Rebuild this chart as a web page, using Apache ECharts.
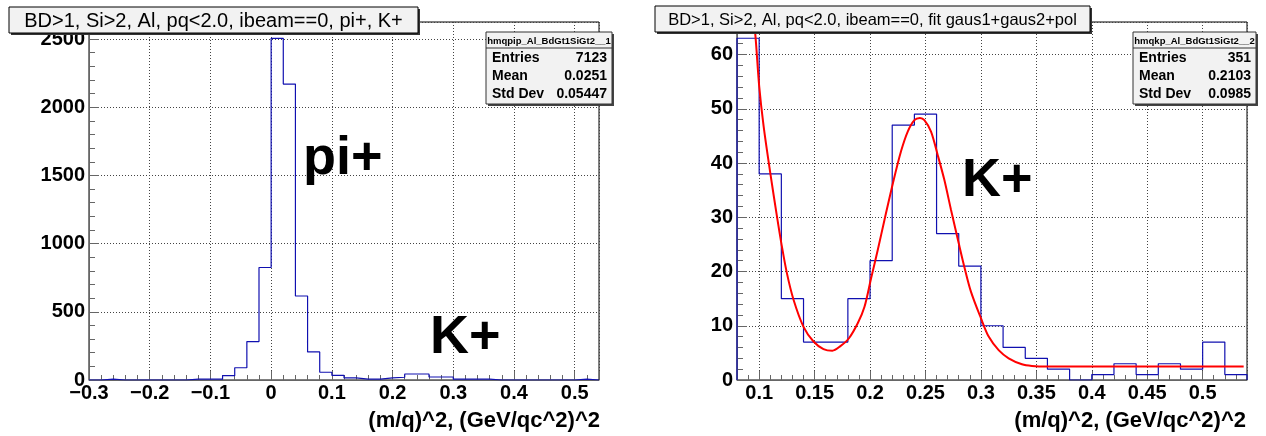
<!DOCTYPE html>
<html lang="en" style="height: 100%">
<head>
    <meta charset="UTF-8">
    <title>(m/q)^2 histograms</title>
    <script src="https://cdn.jsdelivr.net/npm/echarts@6/dist/echarts.min.js"></script>
</head>
<body style="height: 100%; margin: 0; background: #fff">
<div id="container" style="width: 1266px; height: 436px"></div>

<script type="text/javascript">
    // left histogram, bins of 0.02 starting at -0.30
    var leftStart = -0.30;
    var leftBin = 0.02;
    var leftCounts = [0, 6, 0, 0, 0, 0, 0, 0, 6, 6, 6, 32, 90, 282, 825,
        2505, 2170, 616, 206, 57, 34, 15, 6, 6, 15, 20, 44, 44, 22, 22,
        6, 6, 6, 0, 0, 0, 0, 0, 0, 0, 6, 0];

    // right histogram, bins of 0.02 starting at 0.08
    var rightStart = 0.08;
    var rightBin = 0.02;
    var rightCounts = [63, 38, 15, 7, 7, 15, 22, 47, 49, 27, 21, 10, 6, 4, 2,
        0, 1, 3, 1, 3, 2, 7, 1];

    // gaus1+gaus2+pol fit
    var fitX = [0.092, 0.0964, 0.100, 0.104, 0.110, 0.116, 0.120, 0.125, 0.131, 0.140,
        0.149, 0.158, 0.166, 0.173, 0.181, 0.189, 0.195, 0.201, 0.207, 0.213,
        0.221, 0.228, 0.234, 0.240, 0.245, 0.249, 0.255, 0.261, 0.267, 0.273,
        0.280, 0.285, 0.291, 0.300, 0.307, 0.316, 0.325, 0.337, 0.346, 0.360,
        0.400, 0.450, 0.500, 0.537];
    var fitY = [72, 64, 54.2, 46.8, 38.2, 30.2, 25.2, 19.7, 14.8, 9.8,
        7.1, 5.7, 5.4, 6.2, 7.7, 10.5, 13.5, 18.8, 24, 29.5,
        36.6, 42.2, 45.8, 47.9, 48.3, 47.9, 45.8, 41.5, 36.9, 31.4,
        25.2, 20.9, 16.3, 11.4, 8, 5.5, 4, 2.9, 2.6, 2.5,
        2.5, 2.5, 2.5, 2.5];

    var titles = ['BD>1, Si>2, Al, pq<2.0, ibeam==0, pi+, K+',
        'BD>1, Si>2, Al, pq<2.0, ibeam==0, fit gaus1+gaus2+pol'];
    var statNames = ['hmqpip_Al_BdGt1SiGt2__1', 'hmqkp_Al_BdGt1SiGt2__2'];
    var statLabels = ['Entries', 'Mean', 'Std Dev'];
    var leftStats = ['7123', '0.0251', '0.05447'];
    var rightStats = ['351', '0.2103', '0.0985'];
    var xTitle = '(m/q)^2, (GeV/qc^2)^2';

    var FONT = "'Liberation Sans', Arial, sans-serif";

    function steps(start, width, counts) {
        var pts = [[start, 0]];
        for (var i = 0; i < counts.length; i++) {
            var lo = +(start + i * width).toFixed(4);
            var hi = +(start + (i + 1) * width).toFixed(4);
            pts.push([lo, counts[i]], [hi, counts[i]]);
        }
        pts.push([+(start + counts.length * width).toFixed(4), 0]);
        return pts;
    }

    function fmt(v) {
        return String(+v.toFixed(3)).replace('-', '\u2212');
    }

    function xAxis(idx, extra) {
        var a = {
            gridIndex: idx, type: 'value',
            axisLine: {show: true, onZero: false, lineStyle: {color: '#666'}},
            axisTick: {show: true, inside: true, length: 9, lineStyle: {color: '#666'}},
            minorTick: {show: true, splitNumber: 5, length: 5, lineStyle: {color: '#666'}},
            splitLine: {show: true, lineStyle: {color: '#444', type: [1, 2]}},
            axisLabel: {
                fontFamily: FONT, fontWeight: 'bold', fontSize: 20, color: '#000', margin: 3,
                showMinLabel: idx === 0, showMaxLabel: false, formatter: fmt
            }
        };
        for (var k in extra) a[k] = extra[k];
        return a;
    }

    function yAxis(idx, max, interval) {
        return {
            gridIndex: idx, type: 'value', min: 0, max: max, interval: interval,
            axisLine: {show: true, onZero: false, lineStyle: {color: '#666'}},
            axisTick: {show: true, inside: true, length: 10, lineStyle: {color: '#666'}},
            minorTick: {show: true, splitNumber: 5, length: 6, lineStyle: {color: '#666'}},
            splitLine: {show: true, lineStyle: {color: '#444', type: [1, 2]}},
            axisLabel: {
                fontFamily: FONT, fontWeight: 'bold', fontSize: 20, color: '#000', margin: 4,
                showMaxLabel: false,
                formatter: function (v) { return String(v); }
            }
        };
    }

    function titleBox(x, y, w, h, text, size) {
        return [
            {type: 'rect', z: 100, shape: {x: x + 2, y: y + 2, width: w, height: h}, style: {fill: '#333'}},
            {type: 'rect', z: 101, shape: {x: x, y: y, width: w, height: h},
                style: {fill: '#f2f2f2', stroke: '#000', lineWidth: 1}},
            {type: 'text', z: 102, x: x + w / 2, y: y + h / 2 + 1,
                style: {text: text, font: size + 'px ' + FONT, fill: '#000', align: 'center', verticalAlign: 'middle'}}
        ];
    }

    function statBox(x, y, w, name, values) {
        var head = 16, row = 18;
        var h = head + row * 3 + 2;
        var els = [
            {type: 'rect', z: 100, shape: {x: x + 2, y: y + 2, width: w, height: h}, style: {fill: '#444'}},
            {type: 'rect', z: 101, shape: {x: x, y: y, width: w, height: h},
                style: {fill: '#f2f2f2', stroke: '#333', lineWidth: 1}},
            {type: 'line', z: 102, shape: {x1: x, y1: y + head, x2: x + w, y2: y + head},
                style: {stroke: '#333', lineWidth: 1}},
            {type: 'text', z: 102, x: x + w / 2, y: y + head / 2 + 1,
                style: {text: name, font: 'bold 9.5px ' + FONT, fill: '#000', align: 'center', verticalAlign: 'middle'}}
        ];
        for (var i = 0; i < 3; i++) {
            var cy = y + head + row * i + row / 2 + 1;
            els.push({type: 'text', z: 102, x: x + 6, y: cy,
                style: {text: statLabels[i], font: 'bold 14px ' + FONT, fill: '#000', align: 'left', verticalAlign: 'middle'}});
            els.push({type: 'text', z: 102, x: x + w - 5, y: cy,
                style: {text: values[i], font: 'bold 14px ' + FONT, fill: '#000', align: 'right', verticalAlign: 'middle'}});
        }
        return els;
    }

    function bigText(x, y, text) {
        return {type: 'text', z: 50, x: x, y: y,
            style: {text: text, font: 'bold 54px ' + FONT, fill: '#000', align: 'left', verticalAlign: 'middle'}};
    }

    function axisTitle(xRight, text) {
        return {type: 'text', z: 50, x: xRight, y: 421,
            style: {text: text, font: 'bold 22px ' + FONT, fill: '#000', align: 'right', verticalAlign: 'middle'}};
    }

    var graphics = []
        .concat(titleBox(9, 7, 409, 26, titles[0], 20))
        .concat(titleBox(655, 6, 435, 26, titles[1], 16.5))
        .concat(statBox(486, 32, 126, statNames[0], leftStats))
        .concat(statBox(1133, 32, 123, statNames[1], rightStats))
        .concat([bigText(303, 159, 'pi+'), bigText(430, 338, 'K+'), bigText(962, 181, 'K+'),
            axisTitle(600, xTitle), axisTitle(1246, xTitle)]);

    var dom = document.getElementById("container");
    var myChart = echarts.init(dom, null, {renderer: 'canvas'});

    var option = {
        backgroundColor: '#fff',
        animation: false,
        grid: [
            {left: 89, width: 510, top: 22, height: 358, show: true, borderColor: '#000', borderWidth: 1},
            {left: 737, width: 510, top: 22, height: 358, show: true, borderColor: '#000', borderWidth: 1}
        ],
        xAxis: [
            xAxis(0, {min: -0.3, max: 0.54, interval: 0.1}),
            xAxis(1, {min: 0.08, max: 0.54, splitNumber: 9})
        ],
        yAxis: [
            yAxis(0, 2625, 500),
            yAxis(1, 66, 10)
        ],
        series: [
            {
                type: 'line', xAxisIndex: 0, yAxisIndex: 0, data: steps(leftStart, leftBin, leftCounts),
                symbol: 'none', lineStyle: {color: '#1010b0', width: 1.2}
            },
            {
                type: 'line', xAxisIndex: 1, yAxisIndex: 1, data: steps(rightStart, rightBin, rightCounts),
                symbol: 'none', lineStyle: {color: '#1010b0', width: 1.2}
            },
            {
                type: 'line', xAxisIndex: 1, yAxisIndex: 1,
                data: fitX.map(function (x, i) { return [x, fitY[i]]; }),
                symbol: 'none', smooth: 0.3, lineStyle: {color: '#ff0000', width: 2}
            }
        ],
        graphic: graphics
    };
    myChart.setOption(option, true);
</script>
</body>
</html>
